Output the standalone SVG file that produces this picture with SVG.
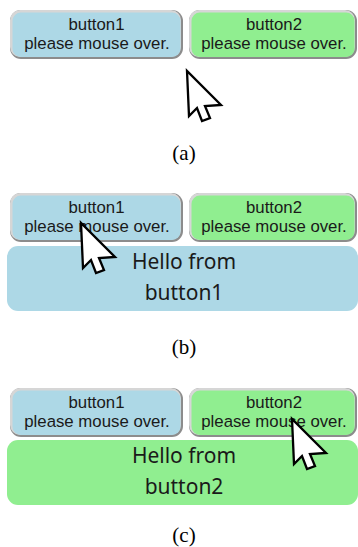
<svg xmlns="http://www.w3.org/2000/svg" width="358" height="547" viewBox="0 0 358 547">
<style>
.btxt{font-family:"Liberation Sans",Arial,sans-serif;font-size:16.8px;fill:#1a1a1a;text-anchor:middle}
.htxt{font-family:"Noto Sans",sans-serif;font-size:21px;fill:#1a1a1a;text-anchor:middle}
.cap{font-family:"Liberation Serif","Times New Roman",serif;font-size:21px;fill:#000;text-anchor:middle}
.dark{fill:#8c8c8c}
.light{fill:#d6d6d6}
.blue{fill:#add8e6}
.green{fill:#90ee90}
.cur{fill:#fff;stroke:#000;stroke-width:2.3;stroke-linejoin:miter}
</style>
<defs>
<g id="btnframe">
<rect x="0" y="0" width="173" height="49" rx="11" class="dark"/>
<rect x="0" y="0" width="171" height="47" rx="10" class="light"/>
</g>
<g id="btnframe2">
<rect x="0" y="0" width="168" height="49" rx="11" class="dark"/>
<rect x="0" y="0" width="166" height="47" rx="10" class="light"/>
</g>
<polygon id="cursor" class="cur" points="0,0 2,45 10,37 15,50 23,47 18,35 34,34"/>
</defs>

<g id="panel-a">
<g id="a-button1">
<use href="#btnframe" x="10" y="10"/>
<rect x="12.5" y="12.5" width="168" height="44.5" rx="8.5" class="blue"/>
<text class="btxt" x="96.5" y="29.5">button1</text>
<text class="btxt" x="97" y="48.5">please mouse over.</text>
</g>
<g id="a-button2">
<use href="#btnframe2" x="189" y="10"/>
<rect x="191.5" y="12.5" width="163" height="44.5" rx="8.5" class="green"/>
<text class="btxt" x="274" y="29.5">button2</text>
<text class="btxt" x="274" y="48.5">please mouse over.</text>
</g>
<use href="#cursor" x="187" y="71"/>
<text class="cap" x="184" y="160">(a)</text>
</g>

<g id="panel-b">
<g id="b-button1">
<use href="#btnframe" x="10" y="193"/>
<rect x="12.5" y="195.5" width="168" height="44.5" rx="8.5" class="blue"/>
<text class="btxt" x="96.5" y="212.5">button1</text>
<text class="btxt" x="97" y="231.5">please mouse over.</text>
</g>
<g id="b-button2">
<use href="#btnframe2" x="189" y="193"/>
<rect x="191.5" y="195.5" width="163" height="44.5" rx="8.5" class="green"/>
<text class="btxt" x="274" y="212.5">button2</text>
<text class="btxt" x="274" y="231.5">please mouse over.</text>
</g>
<g id="b-hello">
<rect x="7" y="246" width="351" height="65" rx="11" class="blue"/>
<text class="htxt" x="184" y="269">Hello from</text>
<text class="htxt" x="184" y="300">button1</text>
</g>
<use href="#cursor" x="81" y="223"/>
<text class="cap" x="184" y="354">(b)</text>
</g>

<g id="panel-c">
<g id="c-button1">
<use href="#btnframe" x="10" y="388"/>
<rect x="12.5" y="390.5" width="168" height="44.5" rx="8.5" class="blue"/>
<text class="btxt" x="96.5" y="407.5">button1</text>
<text class="btxt" x="97" y="426.5">please mouse over.</text>
</g>
<g id="c-button2">
<use href="#btnframe2" x="189" y="388"/>
<rect x="191.5" y="390.5" width="163" height="44.5" rx="8.5" class="green"/>
<text class="btxt" x="274" y="407.5">button2</text>
<text class="btxt" x="274" y="426.5">please mouse over.</text>
</g>
<g id="c-hello">
<rect x="7" y="440" width="351" height="65" rx="11" class="green"/>
<text class="htxt" x="184" y="463">Hello from</text>
<text class="htxt" x="184" y="494">button2</text>
</g>
<use href="#cursor" x="292" y="419"/>
<text class="cap" x="184" y="542">(c)</text>
</g>
</svg>
